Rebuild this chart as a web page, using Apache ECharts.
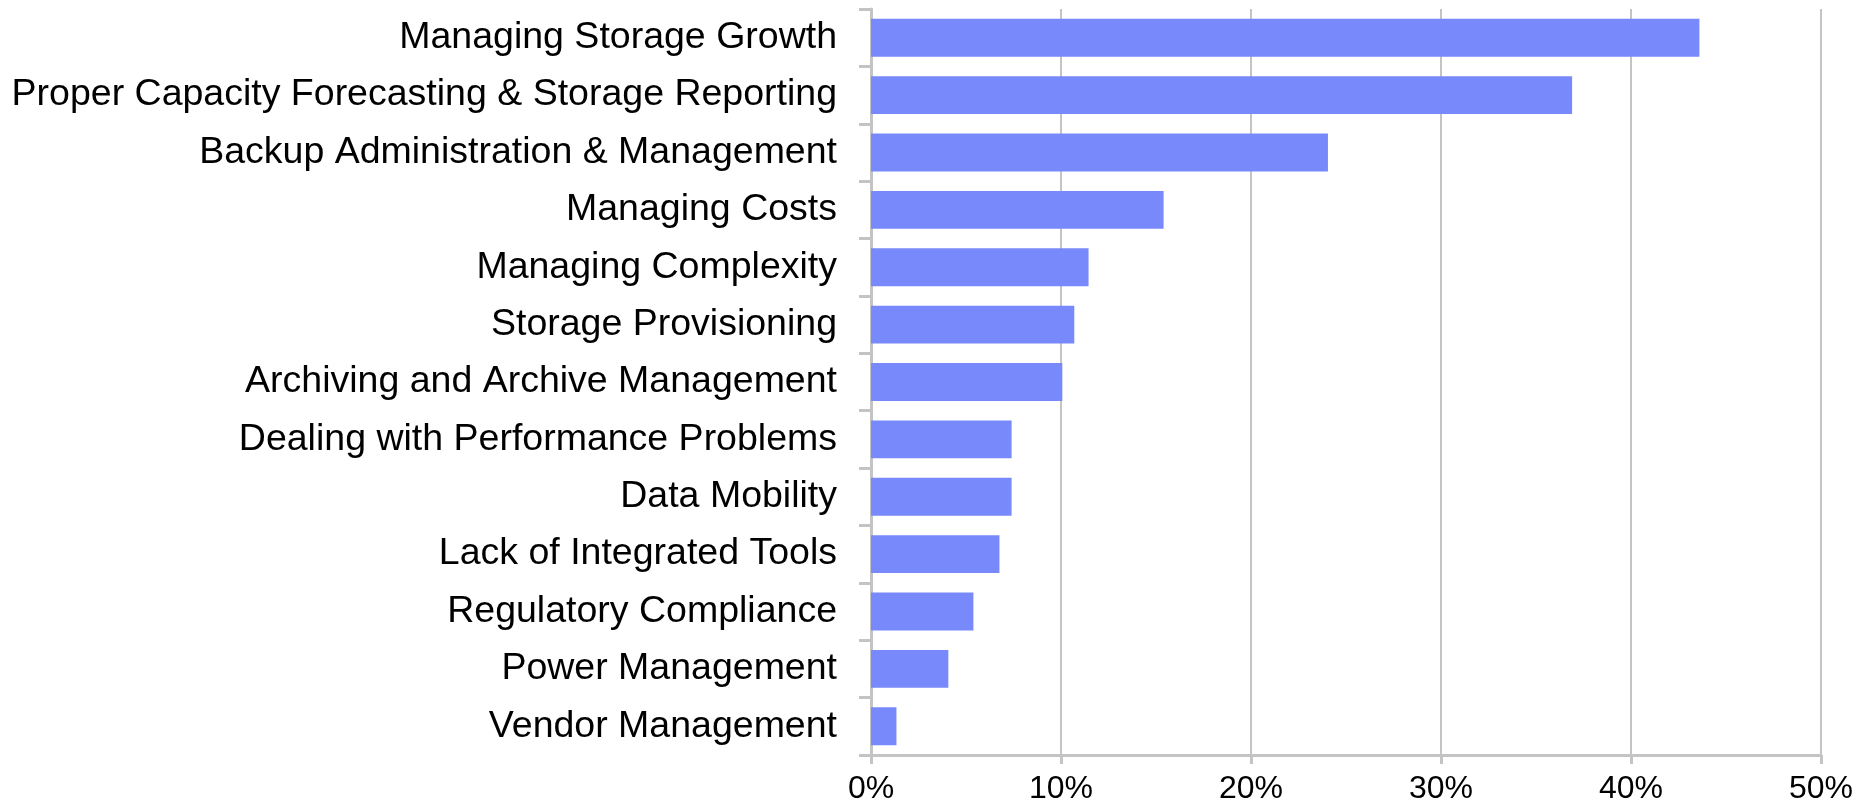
<!DOCTYPE html>
<html>
<head>
<meta charset="utf-8">
<script src="https://cdn.jsdelivr.net/npm/echarts@6/dist/echarts.min.js"></script>
<style>
  html, body { margin: 0; padding: 0; background: #fff; }
  #chart { width: 1866px; height: 806px; }
</style>
</head>
<body>
<div id="chart"></div>
<script>
// categories, top to bottom
const categories = [
  'Managing Storage Growth',
  'Proper Capacity Forecasting & Storage Reporting',
  'Backup Administration & Management',
  'Managing Costs',
  'Managing Complexity',
  'Storage Provisioning',
  'Archiving and Archive Management',
  'Dealing with Performance Problems',
  'Data Mobility',
  'Lack of Integrated Tools',
  'Regulatory Compliance',
  'Power Management',
  'Vendor Management'
];

// share of respondents (%)
const values = [43.6, 36.9, 24.05, 15.4, 11.45, 10.7, 10.07, 7.4, 7.4, 6.76, 5.39, 4.07, 1.34];

const axisGray = '#c4c4c4';

const chart = echarts.init(document.getElementById('chart'));

const option = {
  backgroundColor: '#fff',
  animation: false,
  grid: {
    left: 871,
    right: 45,
    top: 9,
    bottom: 51,
    containLabel: false
  },
  xAxis: {
    type: 'value',
    min: 0,
    max: 50,
    interval: 10,
    axisLine: { show: true, lineStyle: { color: axisGray, width: 3 } },
    axisTick: { show: true, length: 9, lineStyle: { color: axisGray, width: 3 } },
    splitLine: { show: true, lineStyle: { color: axisGray, width: 2 } },
    axisLabel: {
      formatter: '{value}%',
      color: '#000',
      fontFamily: 'Liberation Sans, Arial, sans-serif',
      fontSize: 32,
      margin: 18
    }
  },
  yAxis: {
    type: 'category',
    data: categories,
    inverse: true,
    axisLine: { show: true, lineStyle: { color: axisGray, width: 3 } },
    axisTick: { show: true, length: 12, lineStyle: { color: axisGray, width: 3 } },
    axisLabel: {
      color: '#000',
      fontFamily: 'Liberation Sans, Arial, sans-serif',
      fontSize: 37.5,
      margin: 34
    }
  },
  series: [{
    type: 'bar',
    data: values,
    barWidth: '66%',
    itemStyle: { color: '#7889fb' }
  }]
};

chart.setOption(option);
</script>
</body>
</html>
